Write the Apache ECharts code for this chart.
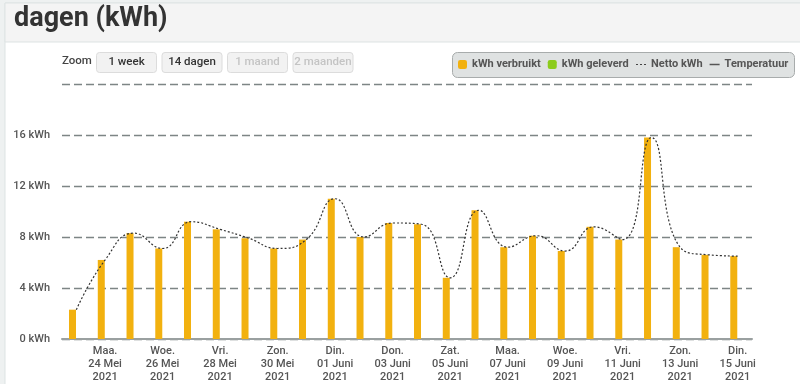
<!DOCTYPE html>
<html><head><meta charset="utf-8">
<script src="https://cdn.jsdelivr.net/npm/echarts@6/dist/echarts.min.js"></script>
<style>html,body{margin:0;padding:0;background:#eef1f1;}#c{width:800px;height:384px;}</style>
</head><body><div id="c"></div>
<script>
const dayNames = ['Zon.','Maa.','Din.','Woe.','Don.','Vri.','Zat.','Zon.','Maa.','Din.','Woe.','Don.','Vri.','Zat.','Zon.','Maa.','Din.','Woe.','Don.','Vri.','Zat.','Zon.','Maa.','Din.'];
const dayDates = ['23 Mei','24 Mei','25 Mei','26 Mei','27 Mei','28 Mei','29 Mei','30 Mei','31 Mei','01 Juni','02 Juni','03 Juni','04 Juni','05 Juni','06 Juni','07 Juni','08 Juni','09 Juni','10 Juni','11 Juni','12 Juni','13 Juni','14 Juni','15 Juni'];
const year = '2021';
const verbruikt = [2.3,6.2,8.3,7.1,9.2,8.6,7.9,7.1,7.8,11.0,8.0,9.1,9.0,4.8,10.1,7.2,8.1,6.9,8.8,7.8,15.8,7.2,6.6,6.5];
const geleverd = [];
const netto = [2.3,6.2,8.3,7.1,9.2,8.6,7.9,7.1,7.8,11.0,8.0,9.1,9.0,4.8,10.1,7.2,8.1,6.9,8.8,7.8,15.8,7.2,6.6,6.5];
const temperatuur = [];
const yTicks = [0,4,8,12,16,20];
const zoomButtons = ['1 week','14 dagen','1 maand','2 maanden'];
const zoomEnabled = [true,true,false,false];

const categories = dayDates.map((d,i)=>dayNames[i]+'\n'+d+'\n'+year);
const FONT = 'Roboto, "DejaVu Sans", sans-serif';

const graphics = [
  {type:'rect', shape:{x:5,y:3,width:800,height:400}, style:{fill:'#ffffff',stroke:'#dde3e3',lineWidth:1}, z:-10},
  {type:'rect', shape:{x:5,y:3,width:800,height:39}, style:{fill:'#f4f4f4',stroke:'#dde3e3',lineWidth:1}, z:-9},
  {type:'text', left:14, top:6, style:{text:'dagen (kWh)', font:'bold 27px '+FONT, fill:'#333333'}},
  {type:'text', left:62, top:55, style:{text:'Zoom', font:'500 11.5px '+FONT, fill:'#444444'}},
  {type:'rect', shape:{x:452.5,y:52.5,width:342,height:25,r:5}, style:{fill:'#dfe2e2',stroke:'#a8acac',lineWidth:1}, z:-5}
];
zoomButtons.forEach((b,i)=>{
  const x = 96.5 + i*65.5;
  graphics.push({type:'rect', shape:{x:x,y:52.5,width:60,height:20,r:3}, style:{fill:'#f2f2f2',stroke:'#dcdcdc',lineWidth:1}});
  graphics.push({type:'text', x:x+30, y:62, style:{text:b, font:'500 11.5px '+FONT, fill:zoomEnabled[i]?'#333333':'#c4c4c4', align:'center', verticalAlign:'middle'}});
});

const legendText = {fontWeight:'bold', fontSize:11, color:'#555555', fontFamily:FONT};
const chart = echarts.init(document.getElementById('c'), null, {renderer:'canvas'});
chart.setOption({
  animation:false,
  backgroundColor:'transparent',
  textStyle:{fontFamily:FONT},
  graphic:graphics,
  legend:[
    {
      left:458, top:59, itemWidth:9, itemHeight:9, itemGap:7, padding:0,
      textStyle:legendText,
      data:[{name:'kWh verbruikt', icon:'roundRect'},{name:'kWh geleverd', icon:'roundRect'}]
    },
    {
      left:636, top:59, itemWidth:10, itemHeight:1.5, itemGap:7, padding:0,
      textStyle:legendText,
      data:[
        {name:'Netto kWh', icon:'path://M0,0h2v1h-2zM4,0h2v1h-2zM8,0h2v1h-2z', itemStyle:{color:'#444444'}},
        {name:'Temperatuur', icon:'rect', itemStyle:{color:'#555555'}}
      ]
    }
  ],
  grid:{left:62, right:48, top:84, bottom:44},
  xAxis:{
    type:'category', data:categories, boundaryGap:true,
    axisLine:{lineStyle:{color:'#9aa0a0', width:2}},
    axisTick:{alignWithLabel:true, length:9, lineStyle:{color:'#ccd6eb'}, interval:(i)=>i%2===1},
    axisLabel:{interval:(i)=>i%2===1, color:'#555555', fontSize:11, fontWeight:500, lineHeight:13, margin:6, fontFamily:FONT}
  },
  yAxis:{
    type:'value', min:0, max:20, interval:4,
    axisLine:{show:false}, axisTick:{show:false},
    axisLabel:{formatter:(v)=> (yTicks.indexOf(v)>=0 && v<20) ? v+' kWh' : '', color:'#555555', fontSize:11, fontWeight:500, margin:12, fontFamily:FONT},
    splitLine:{lineStyle:{color:'#7d8585', type:[8,4], width:1.3}}
  },
  series:[
    {name:'kWh verbruikt', type:'bar', data:verbruikt, barWidth:7, itemStyle:{color:'#f2b10f'}, z:2},
    {name:'kWh geleverd', type:'bar', data:geleverd, barWidth:7, itemStyle:{color:'#8ccc1c'}},
    {name:'Netto kWh', type:'line', data:netto, smooth:0.5, symbol:'none', lineStyle:{color:'#333333', width:1.2, type:[2,2]}, itemStyle:{color:'#333333'}, z:5},
    {name:'Temperatuur', type:'line', data:temperatuur, symbol:'none', lineStyle:{color:'#555555', width:1.5}, itemStyle:{color:'#555555'}}
  ]
});
</script></body></html>
